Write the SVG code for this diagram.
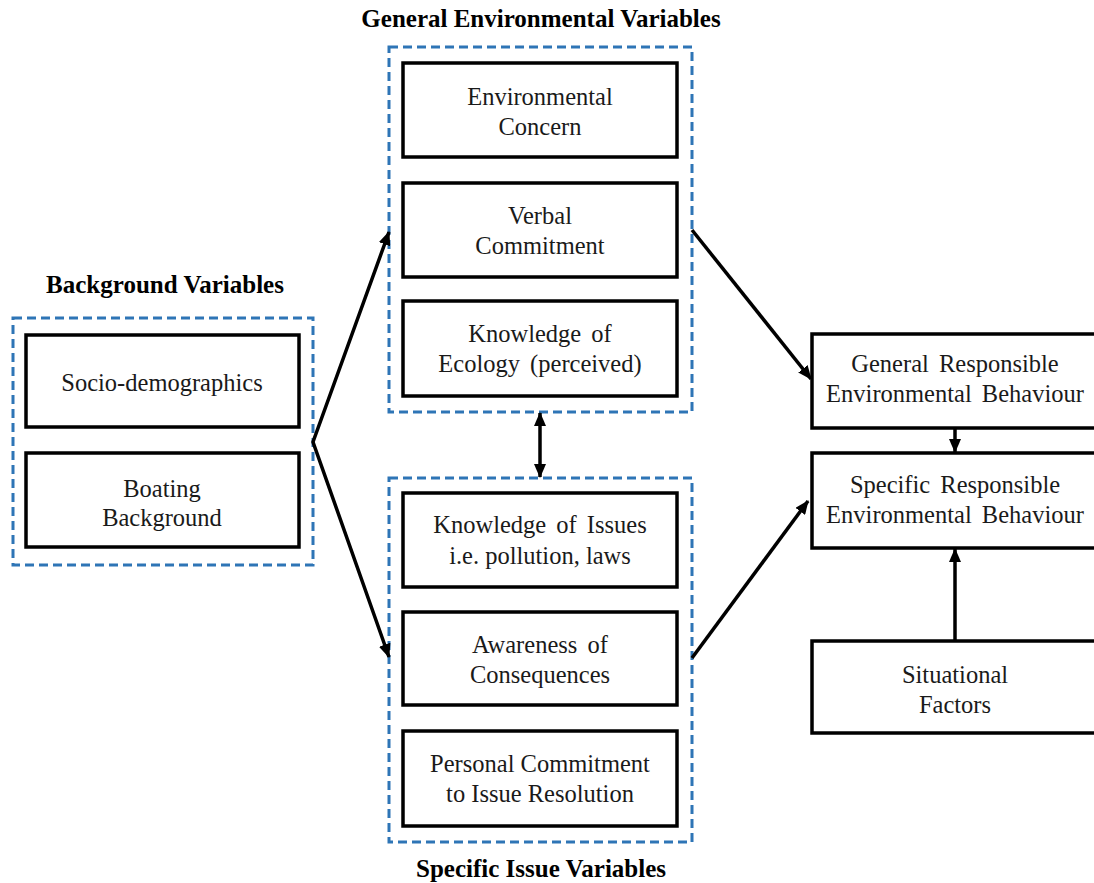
<svg xmlns="http://www.w3.org/2000/svg" width="1094" height="883" viewBox="0 0 1094 883">
  <style>
    .group { fill: none; stroke: #2e75b6; stroke-width: 3; stroke-dasharray: 9 5; }
    .box { fill: #ffffff; stroke: #000000; stroke-width: 3.5; }
    .label { font-family: "Liberation Serif", "Times New Roman", serif; font-size: 24.5px; fill: #1a1a1a; text-anchor: middle; }
    .heading { font-family: "Liberation Serif", "Times New Roman", serif; font-size: 25px; font-weight: bold; fill: #000000; text-anchor: middle; }
    .conn { fill: none; stroke: #000000; stroke-width: 3.5; }
  </style>
  <defs>
    <marker id="arrow" markerUnits="userSpaceOnUse" markerWidth="14" markerHeight="12" refX="13" refY="6" orient="auto-start-reverse">
      <path d="M0,0 L14,6 L0,12 Z" fill="#000000"/>
    </marker>
  </defs>
  <rect width="1094" height="883" fill="#ffffff"/>

  <!-- group frames and their headings -->
  <g id="background-variables">
    <text class="heading" x="165" y="293">Background Variables</text>
    <rect class="group" x="13" y="318" width="300" height="247"/>
  </g>
  <g id="general-environmental-variables">
    <text class="heading" x="541" y="27">General Environmental Variables</text>
    <rect class="group" x="389" y="47" width="303" height="365"/>
  </g>
  <g id="specific-issue-variables">
    <rect class="group" x="389" y="478" width="303" height="364"/>
    <text class="heading" x="541" y="877">Specific Issue Variables</text>
  </g>

  <!-- connectors -->
  <g id="connectors">
    <polyline class="conn" points="389,232 313,442 389,657" marker-start="url(#arrow)" marker-end="url(#arrow)"/>
    <line class="conn" x1="692" y1="230" x2="811" y2="379" marker-end="url(#arrow)"/>
    <line class="conn" x1="692" y1="658" x2="808" y2="501" marker-end="url(#arrow)"/>
    <line class="conn" x1="540" y1="413" x2="540" y2="477" marker-start="url(#arrow)" marker-end="url(#arrow)"/>
    <line class="conn" x1="955" y1="428" x2="955" y2="452" marker-end="url(#arrow)"/>
    <line class="conn" x1="955" y1="641" x2="955" y2="549" marker-end="url(#arrow)"/>
  </g>

  <!-- background variable nodes -->
  <g id="socio-demographics">
    <rect class="box" x="26" y="335" width="273" height="92"/>
    <text class="label" x="162" y="391">Socio-demographics</text>
  </g>
  <g id="boating-background">
    <rect class="box" x="26" y="453" width="273" height="94"/>
    <text class="label" x="162" y="497">Boating</text>
    <text class="label" x="162" y="526">Background</text>
  </g>

  <!-- general environmental nodes -->
  <g id="environmental-concern">
    <rect class="box" x="403" y="63" width="274" height="94"/>
    <text class="label" x="540" y="105">Environmental</text>
    <text class="label" x="540" y="135">Concern</text>
  </g>
  <g id="verbal-commitment">
    <rect class="box" x="403" y="183" width="274" height="94"/>
    <text class="label" x="540" y="224">Verbal</text>
    <text class="label" x="540" y="254">Commitment</text>
  </g>
  <g id="knowledge-of-ecology">
    <rect class="box" x="403" y="301" width="274" height="95"/>
    <text class="label" x="540" y="342" word-spacing="4">Knowledge of</text>
    <text class="label" x="540" y="372" word-spacing="4">Ecology (perceived)</text>
  </g>

  <!-- specific issue nodes -->
  <g id="knowledge-of-issues">
    <rect class="box" x="403" y="493" width="274" height="94"/>
    <text class="label" x="540" y="533" word-spacing="4">Knowledge of Issues</text>
    <text class="label" x="540" y="564">i.e. pollution, laws</text>
  </g>
  <g id="awareness-of-consequences">
    <rect class="box" x="403" y="612" width="274" height="93"/>
    <text class="label" x="540" y="653" word-spacing="4">Awareness of</text>
    <text class="label" x="540" y="683">Consequences</text>
  </g>
  <g id="personal-commitment">
    <rect class="box" x="403" y="731" width="274" height="95"/>
    <text class="label" x="540" y="772">Personal Commitment</text>
    <text class="label" x="540" y="802">to Issue Resolution</text>
  </g>

  <!-- behaviour nodes -->
  <g id="general-responsible-behaviour">
    <rect class="box" x="812" y="334" width="290" height="94"/>
    <text class="label" x="955" y="372" word-spacing="4">General Responsible</text>
    <text class="label" x="955" y="402" word-spacing="4">Environmental Behaviour</text>
  </g>
  <g id="specific-responsible-behaviour">
    <rect class="box" x="812" y="453" width="290" height="95"/>
    <text class="label" x="955" y="493" word-spacing="4">Specific Responsible</text>
    <text class="label" x="955" y="523" word-spacing="4">Environmental Behaviour</text>
  </g>
  <g id="situational-factors">
    <rect class="box" x="812" y="641" width="290" height="92"/>
    <text class="label" x="955" y="683">Situational</text>
    <text class="label" x="955" y="713">Factors</text>
  </g>
</svg>
